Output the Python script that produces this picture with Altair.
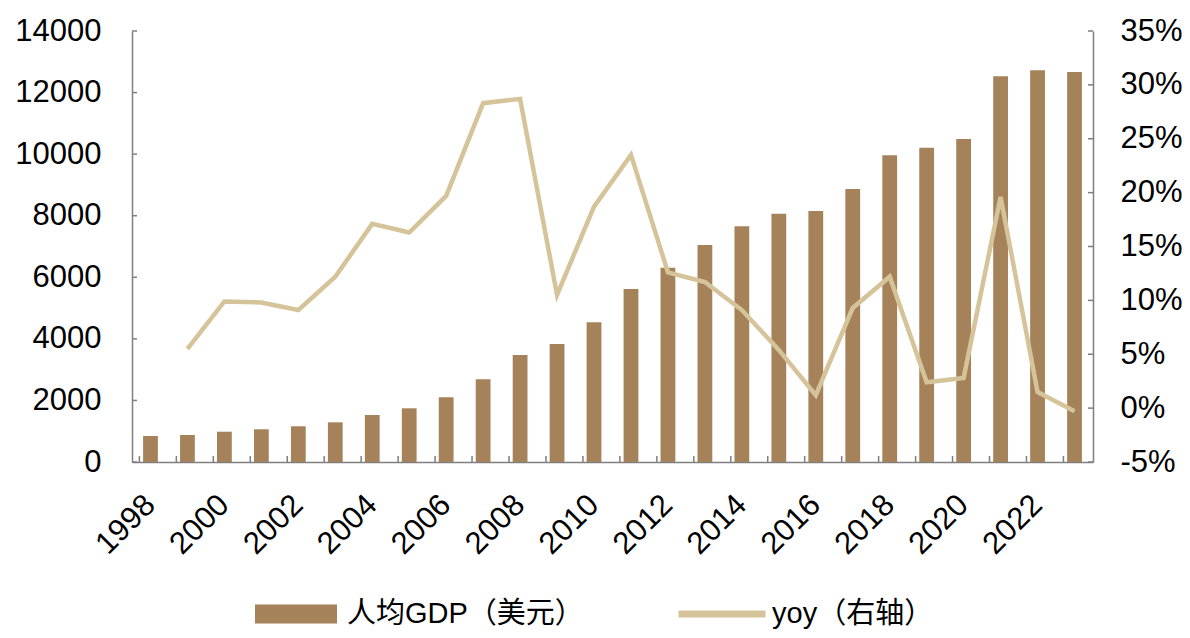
import altair as alt
import pandas as pd

years = list(range(1998, 2024))
gdp = [845, 877, 984, 1062, 1160, 1289, 1527, 1744, 2101, 2686, 3475, 3833, 4537,
       5619, 6311, 7048, 7655, 8065, 8152, 8867, 9962, 10210, 10491, 12528, 12722, 12667]
yoy_years = list(range(1999, 2024))
yoy = [5.5, 9.9, 9.8, 9.1, 12.2, 17.1, 16.3, 19.7, 28.3, 28.7, 10.5, 18.7, 23.5,
       12.6, 11.7, 9.1, 5.4, 1.2, 9.3, 12.2, 2.4, 2.8, 19.6, 1.5, -0.3]
left_ticks = [0, 2000, 4000, 6000, 8000, 10000, 12000, 14000]
right_ticks = [-5, 0, 5, 10, 15, 20, 25, 30, 35]

BAR = "#A6825A"
LINE = "#D5C49A"
AXIS = "#7F7F7F"
FONT = "Liberation Sans, Arial, 'Noto Sans CJK SC'"
FS = 31
W, H = 961, 431

bar_df = pd.DataFrame({"year": years, "gdp": gdp})
line_df = pd.DataFrame({"year": yoy_years, "yoy": yoy})
lt_df = pd.DataFrame({"v": left_ticks})
rt_df = pd.DataFrame({"v": right_ticks})
xt_df = pd.DataFrame({"year": years})

xscale = alt.Scale(paddingInner=0.6, paddingOuter=0.3)
xaxis = alt.Axis(title=None, labelAngle=-45, labelAlign="right", labelBaseline="middle",
                 labelExpr="datum.value % 2 == 0 ? datum.label : ''",
                 labelFontSize=FS, labelFont=FONT, labelColor="#000000", labelPadding=38,
                 ticks=False, domainColor=AXIS, domainWidth=1.5)
yl_scale = alt.Scale(domain=[0, 14000], nice=False, zero=False)
yr_scale = alt.Scale(domain=[-5, 35], nice=False, zero=False)
yl_axis = alt.Axis(title=None, values=left_ticks, format="d", labelFontSize=FS, labelFont=FONT,
                   labelColor="#000000", labelPadding=31, ticks=False, grid=False,
                   domainColor=AXIS, domainWidth=1.5)
yr_axis = alt.Axis(title=None, orient="right", values=right_ticks,
                   labelExpr="datum.value + '%'", labelFontSize=FS, labelFont=FONT,
                   labelColor="#000000", labelPadding=27, ticks=False, grid=False,
                   domainColor=AXIS, domainWidth=1.5)

bars = alt.Chart(bar_df).transform_calculate(s="'人均GDP（美元）'").mark_bar().encode(
    x=alt.X("year:O", scale=xscale, axis=xaxis),
    y=alt.Y("gdp:Q", scale=yl_scale, axis=yl_axis),
    fill=alt.Fill("s:N", scale=alt.Scale(range=[BAR]),
                  legend=alt.Legend(title=None, orient="none", legendX=123, legendY=542,
                                    symbolType="M-1,-0.232H1V0.232H-1Z", symbolSize=6724,
                                    symbolStrokeWidth=0, labelFontSize=29, labelFont=FONT,
                                    labelColor="#000000", labelOffset=10, padding=0,
                                    labelLimit=500)),
)
lticks = alt.Chart(lt_df).mark_rule(color=AXIS, strokeWidth=1.5).encode(
    y=alt.Y("v:Q", scale=yl_scale, axis=yl_axis),
    x=alt.value(0), x2=alt.value(5),
)
xticks = alt.Chart(xt_df).mark_rule(color=AXIS, strokeWidth=1.5, xOffset=-11.09).encode(
    x=alt.X("year:O", scale=xscale, axis=xaxis),
    y=alt.value(H), y2=alt.value(H - 6),
)
left = alt.layer(bars, xticks, lticks)

line = alt.Chart(line_df).transform_calculate(s="'yoy（右轴）'").mark_line(strokeWidth=4.5).encode(
    x=alt.X("year:O", scale=xscale, axis=xaxis),
    y=alt.Y("yoy:Q", scale=yr_scale, axis=yr_axis),
    stroke=alt.Stroke("s:N", scale=alt.Scale(range=[LINE]),
                      legend=alt.Legend(title=None, orient="none", legendX=543, legendY=536,
                                        symbolType="stroke", symbolSize=7569,
                                        symbolStrokeWidth=7, labelFontSize=29, labelFont=FONT,
                                        labelColor="#000000", labelOffset=3, padding=0,
                                        labelLimit=500)),
)
rticks = alt.Chart(rt_df).mark_rule(color=AXIS, strokeWidth=1.5).encode(
    y=alt.Y("v:Q", scale=yr_scale, axis=yr_axis),
    x=alt.value(W - 5), x2=alt.value(W),
)
right = alt.layer(line, rticks)

chart = alt.layer(left, right).resolve_scale(y="independent").properties(
    width=W, height=H,
    autosize=alt.AutoSizeParams(type="none"),
    padding={"left": 124, "top": 23, "right": 89, "bottom": 168},
).configure_view(stroke=None)

chart.save("out.html", embed_options={"renderer": "svg", "actions": False})
